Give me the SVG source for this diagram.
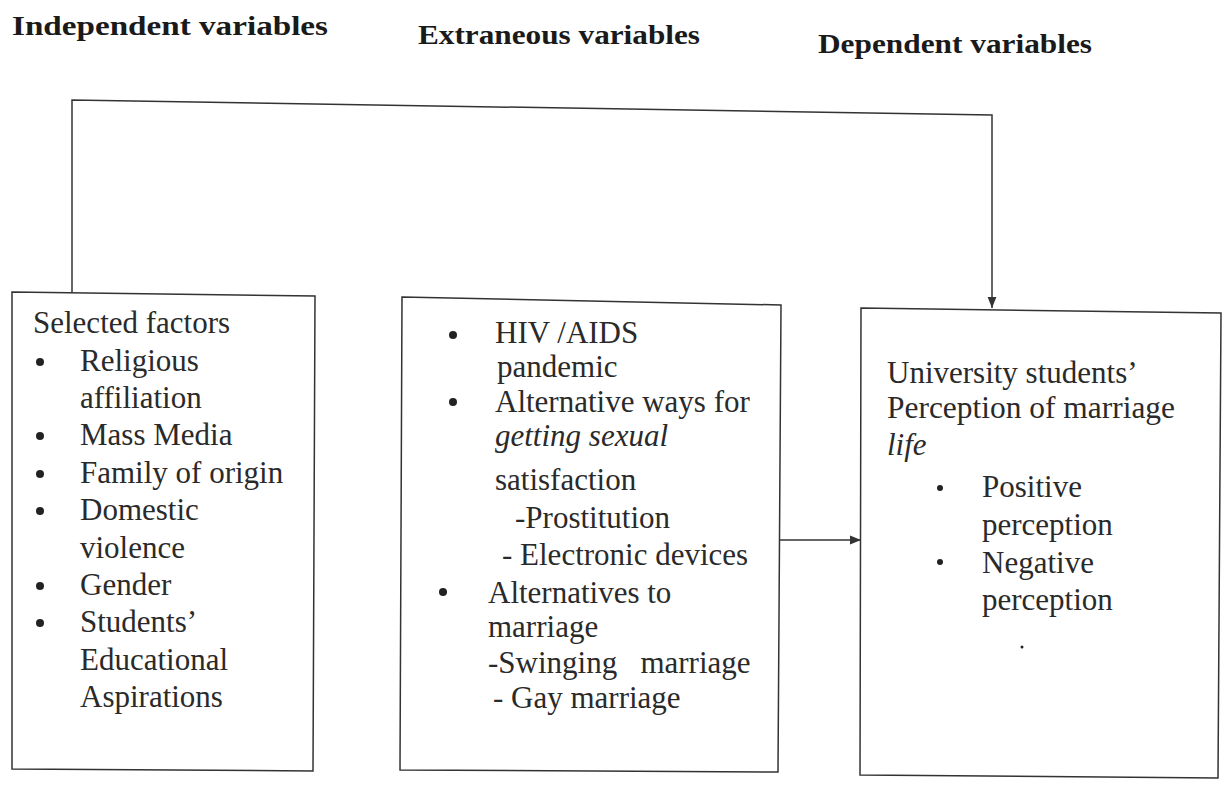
<svg xmlns="http://www.w3.org/2000/svg" width="1224" height="785" viewBox="0 0 1224 785">
<style>
.hdr{font-family:"Liberation Serif","Times New Roman",serif;font-weight:bold;font-size:27px;fill:#1a1a1a}
.t{font-family:"Liberation Serif","Times New Roman",serif;font-size:31px;fill:#2a2a2a}
.it{font-style:italic}
.box{fill:none;stroke:#333;stroke-width:1.5}
.conn{fill:none;stroke:#333;stroke-width:1.5}
.dot{fill:#222}
</style>
<defs>
<marker id="arr" viewBox="0 0 10 10" refX="10" refY="5" markerWidth="11" markerHeight="11" markerUnits="userSpaceOnUse" orient="auto">
<path d="M0,1 L10,5 L0,9 Z" fill="#333"/>
</marker>
</defs>
<rect width="1224" height="785" fill="#fff"/>

<g id="headers">
<text class="hdr" x="12" y="35" textLength="316" lengthAdjust="spacingAndGlyphs">Independent variables</text>
<text class="hdr" x="418" y="44" textLength="282" lengthAdjust="spacingAndGlyphs">Extraneous variables</text>
<text class="hdr" x="818" y="53" textLength="274" lengthAdjust="spacingAndGlyphs">Dependent variables</text>
</g>

<g id="connectors">
<path class="conn" d="M72,292 L72,100 L992,115 L992,308" marker-end="url(#arr)"/>
<path class="conn" d="M780,540 L861,540" marker-end="url(#arr)"/>
</g>

<g id="node-independent">
<path class="box" d="M12,292 L315,296 L313,771 L12,769 Z"/>
<text class="t" x="33" y="333">Selected factors</text>
<circle class="dot" cx="40" cy="362" r="4"/>
<text class="t" x="80" y="371">Religious</text>
<text class="t" x="80" y="408">affiliation</text>
<circle class="dot" cx="40" cy="436" r="4"/>
<text class="t" x="80" y="445">Mass Media</text>
<circle class="dot" cx="40" cy="474" r="4"/>
<text class="t" x="80" y="483">Family of origin</text>
<circle class="dot" cx="40" cy="511" r="4"/>
<text class="t" x="80" y="520">Domestic</text>
<text class="t" x="80" y="558">violence</text>
<circle class="dot" cx="40" cy="586" r="4"/>
<text class="t" x="80" y="595">Gender</text>
<circle class="dot" cx="40" cy="623" r="4"/>
<text class="t" x="80" y="632">Students’</text>
<text class="t" x="80" y="670">Educational</text>
<text class="t" x="80" y="707">Aspirations</text>
</g>

<g id="node-extraneous">
<path class="box" d="M402,297 L781,305 L778,772 L400,770 Z"/>
<circle class="dot" cx="453" cy="335" r="4"/>
<text class="t" x="495" y="343">HIV /AIDS</text>
<text class="t" x="497" y="377">pandemic</text>
<circle class="dot" cx="453" cy="402" r="4"/>
<text class="t" x="495" y="412">Alternative ways for</text>
<text class="t it" x="495" y="446">getting sexual</text>
<text class="t" x="495" y="490">satisfaction</text>
<text class="t" x="515" y="528">-Prostitution</text>
<text class="t" x="502" y="565">- Electronic devices</text>
<circle class="dot" cx="443" cy="592" r="4"/>
<text class="t" x="488" y="603">Alternatives to</text>
<text class="t" x="488" y="637">marriage</text>
<text class="t" x="488" y="673" xml:space="preserve">-Swinging   marriage</text>
<text class="t" x="493" y="708">- Gay marriage</text>
</g>

<g id="node-dependent">
<path class="box" d="M861,308 L1221,313 L1218,778 L860,775 Z"/>
<text class="t" x="887" y="383">University students’</text>
<text class="t" x="887" y="418" textLength="288" lengthAdjust="spacingAndGlyphs">Perception of marriage</text>
<text class="t it" x="887" y="455">life</text>
<circle class="dot" cx="940" cy="488" r="3"/>
<text class="t" x="982" y="497">Positive</text>
<text class="t" x="982" y="535">perception</text>
<circle class="dot" cx="940" cy="562" r="3"/>
<text class="t" x="982" y="573">Negative</text>
<text class="t" x="982" y="610">perception</text>
<circle class="dot" cx="1022" cy="647" r="1.5"/>
</g>
</svg>
